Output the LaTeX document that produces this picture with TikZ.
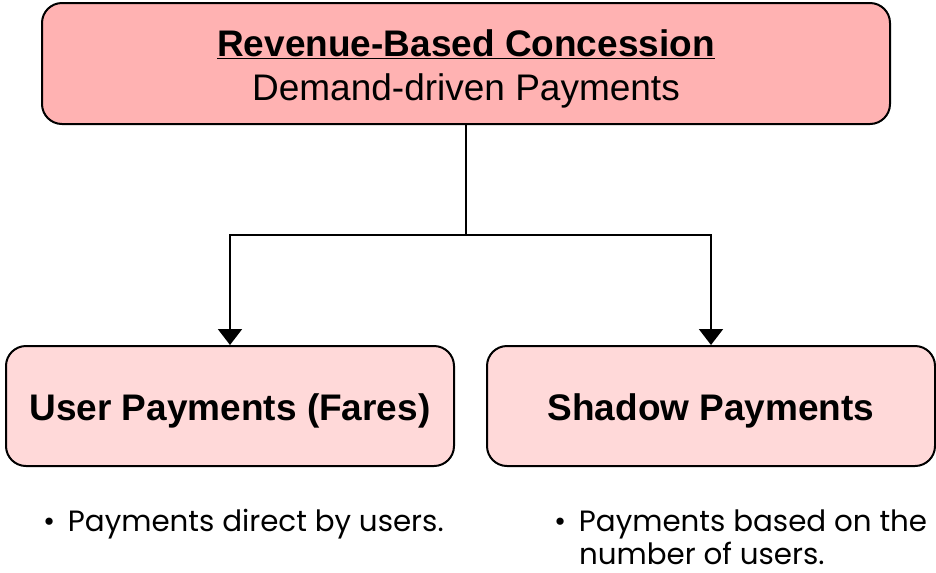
\documentclass[tikz,border=0pt]{standalone}
\usepackage{fontspec}
\setmainfont{Liberation Sans}
\newfontfamily\bulletfont{Poppins}
\usepackage{tikz}
\usetikzlibrary{arrows.meta,positioning,calc}
\usepackage{xcolor}

\definecolor{headpink}{RGB}{255,178,178}
\definecolor{subpink}{RGB}{255,217,217}

\tikzset{
  box/.style={draw=black, line width=1.5pt, rounded corners=15pt, align=center,
    font=\fontsize{27.75}{33}\selectfont},
  headbox/.style={box, fill=headpink, minimum width=636pt, minimum height=90.75pt,
    text height=61pt, text depth=6pt},
  subbox/.style={box, fill=subpink, minimum width=336pt, minimum height=90pt,
    text height=28pt, text depth=6pt},
  note/.style={anchor=base west, inner sep=0pt, align=left,
    font=\bulletfont\fontsize{22}{24.75}\selectfont}
}
% bullet list with a hanging second column
\newcommand{\bulletlist}[1]{\begin{tabular}[t]{@{}p{18.75pt}@{}l@{}}#1\end{tabular}}

\begin{document}
\begin{tikzpicture}[x=0.75pt, y=-0.75pt, >={Triangle[width=18pt,length=12pt]}, line width=1.5pt]

  \useasboundingbox (0,0) rectangle (936,572);

  % Define nodes

  \node[headbox] (rev) at (466,63.5) {\textbf{\underline{Revenue-Based Concession}}\\Demand-driven Payments};
  \node[subbox] (user) at (230,406) {\textbf{User Payments (Fares)}};
  \node[subbox] (shadow) at (711,406) {\textbf{Shadow Payments}};
  \coordinate (split) at (466,235);

  % Notes below the boxes
  \node[note] (usernote) at (42,531) {\bulletlist{\textbullet & Payments direct by users.}};
  \node[note] (shadownote) at (553,531) {\bulletlist{\textbullet & Payments based on the\\ & number of users.}};

  % Draw arrows
  \draw (rev) -- (split);
  \draw[->] (split) -| (user);
  \draw[->] (split) -| (shadow);
\end{tikzpicture}
\end{document}
